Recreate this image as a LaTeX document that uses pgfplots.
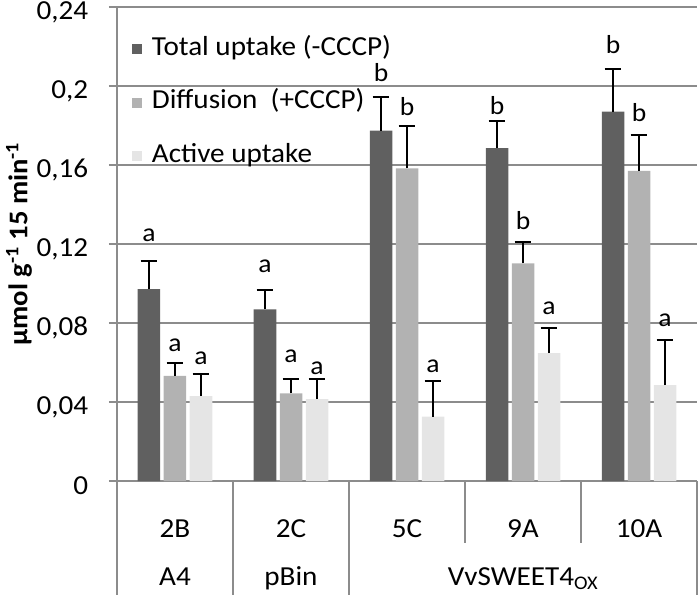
\documentclass[border=0pt]{standalone}
\usepackage{pgfplots}
\usepackage{pgfplotstable}
\pgfplotsset{compat=1.18}
\usepackage{fontspec}
\setmainfont{Carlito}[FakeStretch=1.06]
\definecolor{cA}{HTML}{606060}
\definecolor{cB}{HTML}{B2B2B2}
\definecolor{cC}{HTML}{E5E5E5}
\definecolor{gridc}{HTML}{8C8C8C}

\pgfplotstableread{
x y e yl la
0 0.0971 0.0145 0.1212 a
1 0.0869 0.0098 0.1052 a
2 0.1774 0.0170 0.2022 b
3 0.1685 0.0140 0.1853 b
4 0.1870 0.0215 0.2162 b
}\tot
\pgfplotstableread{
x y e yl la
0 0.0532 0.0064 0.0655 a
1 0.0444 0.0071 0.0596 a
2 0.1583 0.0217 0.1848 b
3 0.1102 0.0110 0.1271 b
4 0.1570 0.0182 0.1819 b
}\dif
\pgfplotstableread{
x y e yl la
0 0.0430 0.0112 0.0587 a
1 0.0414 0.0101 0.0537 a
2 0.0326 0.0180 0.0545 a
3 0.0647 0.0129 0.0840 a
4 0.0486 0.0228 0.0781 a
}\act

\pgfplotsset{
  my legend/.style={legend image code/.code={\draw[##1,draw=none] (0pt,-5pt) rectangle (10pt,5pt);}},
  my err/.style={error bars/.cd, y dir=plus, y explicit, error mark=|,
    error bar style={line width=2pt, draw=black},
    error mark options={line width=2pt, draw=black, mark size=8.3pt}},
  my lab/.style={draw=none, fill=none, forget plot, nodes near coords,
    point meta=explicit symbolic,
    every node near coord/.append style={inner sep=0pt, black, font=\fontsize{26}{30}\selectfont}},
}

\begin{document}
\begin{tikzpicture}[font=\fontsize{27.5}{32}\selectfont]
\useasboundingbox (-117pt,-114pt) rectangle (583pt,481pt);
\begin{axis}[
  scale only axis, width=580pt, height=474pt,
  clip=false,
  ybar, bar width=22.5pt,
  xmin=-0.5, xmax=4.5, ymin=0, ymax=0.24,
  axis lines*=left,
  axis line style={gridc, line width=2.3pt},
  ymajorgrids, grid style={gridc, line width=2.3pt},
  ytick={0,0.04,0.08,0.12,0.16,0.2,0.24},
  /pgf/number format/use comma,
  /pgf/number format/fixed,
  /pgf/number format/precision=2,
  /pgf/number format/assume math mode=true,
  yticklabel style={anchor=east, inner sep=0pt, xshift=-20.7pt, yshift=-5pt},
  tick align=outside, major tick length=8pt,
  ytick style={gridc, line width=2.3pt},
  xtick={0,1,2,3,4},
  xticklabels={2B,2C,5C,9A,10A},
  xtick style={draw=none},
  xticklabel style={anchor=base, inner sep=0pt, yshift=-48pt},
  every axis y label/.style={at={(axis description cs:-0.169,0.5)}, rotate=90, anchor=center},
  ylabel={\fontsize{27}{30}\selectfont\bfseries µmol g\textsuperscript{-1} 15 min\textsuperscript{-1}},
  legend style={at={(axis description cs:0.0253,0.9367)}, anchor=north west,
    draw=none, fill=none, inner sep=0pt, row sep=29.5pt, column sep=10pt,
    nodes={inner sep=0pt, anchor=west, text height=18pt, text depth=6pt}},
  legend cell align=left,
]
\addplot[fill=cA, draw=none, bar shift=-26pt, my legend, my err] table[x=x, y=y, y error=e] {\tot};
\addplot[fill=cB, draw=none, bar shift=0pt, my legend, my err] table[x=x, y=y, y error=e] {\dif};
\addplot[fill=cC, draw=none, bar shift=26pt, my legend, my err] table[x=x, y=y, y error=e] {\act};
\legend{Total uptake (-CCCP), Diffusion\ \ (+CCCP), Active uptake}

\addplot[my lab, bar shift=-26pt] table[x=x, y=yl, meta=la] {\tot};
\addplot[my lab, bar shift=0pt] table[x=x, y=yl, meta=la] {\dif};
\addplot[my lab, bar shift=26pt] table[x=x, y=yl, meta=la] {\act};

% category dividers below the axis
\draw[gridc, line width=2.3pt] (axis cs:-0.5,0) -- (axis cs:-0.5,-0.0577);
\draw[gridc, line width=2.3pt] (axis cs:0.5,0) -- (axis cs:0.5,-0.0577);
\draw[gridc, line width=2.3pt] (axis cs:1.5,0) -- (axis cs:1.5,-0.0577);
\draw[gridc, line width=2.3pt] (axis cs:2.5,0) -- (axis cs:2.5,-0.0314);
\draw[gridc, line width=2.3pt] (axis cs:3.5,0) -- (axis cs:3.5,-0.0314);
\draw[gridc, line width=2.3pt] (axis cs:4.5,0) -- (axis cs:4.5,-0.0577);
% second row of category labels
\node[anchor=base, inner sep=0pt] at (axis cs:0,-0.0527) {A4};
\node[anchor=base, inner sep=0pt] at (axis cs:1,-0.0527) {pBin};
\node[anchor=base, inner sep=0pt] at (axis cs:3,-0.0527) {VvSWEET4\textsubscript{OX}};
\end{axis}
\end{tikzpicture}
\end{document}
